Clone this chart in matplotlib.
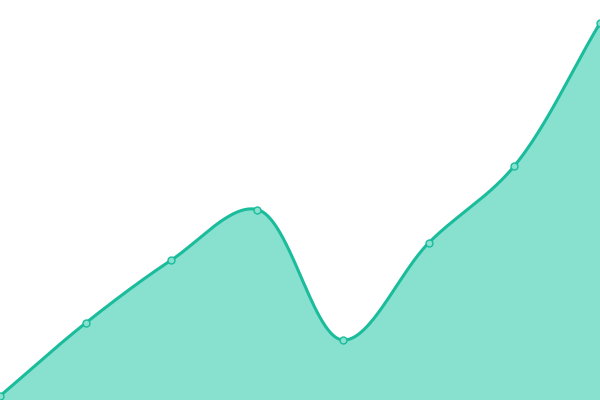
import numpy as np
import matplotlib
matplotlib.use("Agg")
import matplotlib.pyplot as plt

categories = list(range(8))
values = [4, 77, 140, 190.5, 60, 157, 234, 377]

def catmull_rom(x, y, n=60, alpha=0.5):
    x = np.asarray(x, float); y = np.asarray(y, float)
    P = np.column_stack([x, y])
    P = np.vstack([2*P[0]-P[1], P, 2*P[-1]-P[-2]])
    out = []
    for i in range(1, len(P)-2):
        p0, p1, p2, p3 = P[i-1], P[i], P[i+1], P[i+2]
        def tj(ti, a, b):
            return ti + np.linalg.norm(b-a)**alpha
        t0 = 0.0; t1 = tj(t0, p0, p1); t2 = tj(t1, p1, p2); t3 = tj(t2, p2, p3)
        t = np.linspace(t1, t2, n)[:, None]
        A1 = (t1-t)/(t1-t0)*p0 + (t-t0)/(t1-t0)*p1
        A2 = (t2-t)/(t2-t1)*p1 + (t-t1)/(t2-t1)*p2
        A3 = (t3-t)/(t3-t2)*p2 + (t-t2)/(t3-t2)*p3
        B1 = (t2-t)/(t2-t0)*A1 + (t-t0)/(t2-t0)*A2
        B2 = (t3-t)/(t3-t1)*A2 + (t-t1)/(t3-t1)*A3
        C = (t2-t)/(t2-t1)*B1 + (t-t1)/(t2-t1)*B2
        out.append(C if i == 1 else C[1:])
    C = np.vstack(out)
    return C[:, 0], C[:, 1]

# scale x to pixel-like units so centripetal parameterization matches screen geometry
xs = np.array(categories, float) * (600/7)
sx, sy = catmull_rom(xs, values)
sx = sx / (600/7)

fig = plt.figure(figsize=(6, 4), dpi=100)
ax = fig.add_axes([0, 0, 1, 1])
ax.fill_between(sx, sy, 0, color="#88e0cf", lw=0, zorder=1)
ax.plot(sx, sy, color="#1abc9c", lw=2.2, zorder=2, solid_capstyle="round")
ax.plot(categories, values, "o", ms=5, mfc="#88e0cf", mec="#1abc9c", mew=1, zorder=3, clip_on=False)
ax.set_xlim(0, 7)
ax.set_ylim(0, 400)
ax.axis("off")
fig.savefig("out.png", dpi=100)
